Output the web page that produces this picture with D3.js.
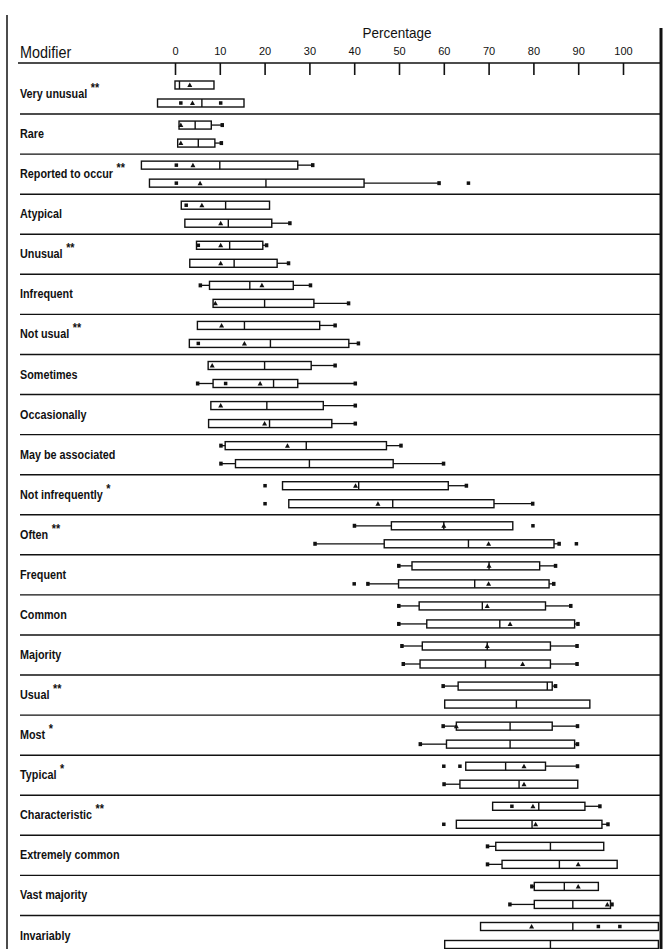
<!DOCTYPE html>
<html>
<head>
<meta charset="utf-8">
<script src="https://cdn.jsdelivr.net/npm/d3@7"></script>
<style>
    html, body { margin: 0; padding: 0; background: #fff; }
    #chart svg { display: block; }
    text { font-family: "Liberation Sans", Arial, sans-serif; fill: #111; }
</style>
</head>
<body>
<div id="chart"></div>
<script>
// ==========================================================================
// DADOS
// ==========================================================================

const modifiers = [
    'Very unusual', 'Rare', 'Reported to occur', 'Atypical', 'Unusual', 'Infrequent',
    'Not usual', 'Sometimes', 'Occasionally', 'May be associated', 'Not infrequently',
    'Often', 'Frequent', 'Common', 'Majority', 'Usual', 'Most', 'Typical',
    'Characteristic', 'Extremely common', 'Vast majority', 'Invariably'
];
const stars = ['**', '', '**', '', '**', '', '**', '', '', '', '*', '**', '', '', '', '**', '*', '*', '**', '', '', ''];

const percentTicks = [0, 10, 20, 30, 40, 50, 60, 70, 80, 90, 100];

// grupo A (caixa de cima)
const aMin  = [0, 0.9, -7.5, 1.4, 4.8, 5.6, 5, 7.4, 8, 10.2, 24, 40, 49.9, 49.9, 50.6, 59.8, 59.8, 64.9, 70.9, 69.7, 79.6, 68.2];
const aQ1   = [0, 0.9, -7.5, 1.4, 4.8, 7.7, 5, 7.4, 8, 11.2, 24, 48.3, 52.9, 54.5, 55.2, 63.2, 62.8, 64.9, 70.9, 71.6, 80.2, 68.2];
const aMed  = [1, 4.5, 10, 11.3, 12.2, 16.7, 15.5, 20, 20.5, 29.3, 41, 60, 70.1, 68.6, 69.7, 83.1, 74.8, 73.8, 81.2, 83.8, 86.9, 88.8];
const aQ3   = [8.7, 8.1, 27.4, 21.1, 19.6, 26.4, 32.3, 30.4, 33.1, 47.2, 61, 75.4, 81.4, 82.7, 83.8, 84.2, 84.2, 82.7, 91.5, 95.7, 94.5, 107.9];
const aMax  = [8.7, 10.6, 30.8, 21.1, 20.5, 30.3, 35.8, 35.8, 40.3, 50.5, 65.1, 75.4, 85, 88.4, 89.8, 85, 89.9, 89.9, 94.9, 95.7, 94.5, 107.9];
const aMean = [3.3, 1.3, 4, 6, 10.2, 19.4, 10.4, 8.3, 10.2, 25.1, 40.3, 60, 70.1, 69.7, 69.7, null, 62.8, 77.9, 79.9, null, 90, 79.6];
const aPoints = [[], [], [0.3], [2.5], [5.2], [], [], [], [], [], [20.1], [79.9], [], [], [], [], [], [60, 63.6], [75.2], [], [], [94.5, 99.3]];

// grupo B (caixa de baixo)
const bMin  = [-3.9, 0.6, -5.7, 2.2, 3.3, 8.5, 3.2, 5, 7.5, 10.2, 25.4, 31.2, 43, 49.9, 50.9, 60.2, 54.7, 60, 62.8, 69.7, 74.7, 60.2];
const bQ1   = [-3.9, 0.6, -5.7, 2.2, 3.3, 8.5, 3.2, 8.5, 7.5, 13.5, 25.4, 46.7, 49.9, 56.2, 54.7, 60.2, 60.6, 63.6, 62.8, 73, 80.2, 60.2];
const bMed  = [6, 5.2, 20.3, 11.9, 13.2, 20, 21.3, 22, 21.1, 30, 48.6, 65.5, 66.9, 72.5, 69.3, 76.2, 74.8, 76.8, 79.7, 85.8, 88.8, 83.8];
const bQ3   = [15.4, 8.9, 42.2, 21.6, 22.8, 31, 38.8, 27.4, 35, 48.7, 71.2, 84.6, 83.5, 89.2, 83.8, 92.6, 89.2, 89.9, 95.3, 98.7, 97.2, 107.9];
const bMax  = [15.4, 10.4, 59, 25.7, 25.4, 38.8, 41, 40.3, 40.3, 60, 79.9, 85.8, 84.6, 90, 89.8, 92.6, 89.9, 89.9, 96.7, 98.7, 97.6, 107.9];
const bMean = [3.9, 1.3, 5.6, 10.2, 10.2, 9, 15.5, 19, 20, null, 45.3, 70, 70, 74.8, 77.6, null, null, 77.9, 80.5, 90, 96.5, null];
const bPoints = [[1.3, 10.2], [], [0.3, 65.5], [], [], [], [5.2], [11.3], [], [], [20.1], [89.6], [40], [], [], [], [], [], [60], [], [], []];

// ==========================================================================
// CONFIGURAÇÕES
// ==========================================================================

const CFG = {
    width: 666,
    height: 949,
    ink: '#111',
    boxHeight: 8,
    groupOffset: 9,
    rowFirst: 94,
    rowLast: 935.5,
    axisY: 63,
    labelScale: 0.9
};

const svg = d3.select('#chart')
    .append('svg')
    .attr('width', CFG.width)
    .attr('height', CFG.height);

const x = d3.scaleLinear().domain([0, 100]).range([175, 623]);
const y = d3.scalePoint().domain(modifiers).range([CFG.rowFirst, CFG.rowLast]);
const step = y.step();

// ==========================================================================
// MOLDURA, CABEÇALHO E EIXO
// ==========================================================================

svg.append('line')
    .attr('x1', 7).attr('x2', 7).attr('y1', 15).attr('y2', CFG.height)
    .attr('stroke', CFG.ink).attr('stroke-width', 1.5);

svg.append('line')
    .attr('x1', 661).attr('x2', 661).attr('y1', 28).attr('y2', CFG.height)
    .attr('stroke', CFG.ink).attr('stroke-width', 3);

svg.append('text')
    .attr('transform', `translate(397,38) scale(${CFG.labelScale},1)`)
    .attr('text-anchor', 'middle')
    .style('font-size', '15px')
    .text('Percentage');

svg.append('text')
    .attr('transform', `translate(20,58) scale(${CFG.labelScale},1)`)
    .style('font-size', '16px')
    .text('Modifier');

svg.append('line')
    .attr('x1', 18).attr('x2', 660).attr('y1', CFG.axisY).attr('y2', CFG.axisY)
    .attr('stroke', CFG.ink).attr('stroke-width', 1.6);

const axis = svg.append('g')
    .attr('transform', `translate(0,${CFG.axisY})`)
    .call(d3.axisTop(x).tickValues(percentTicks).tickSize(-12).tickPadding(8));

axis.select('.domain').remove();
axis.selectAll('.tick line').attr('stroke', CFG.ink).attr('stroke-width', 1.6);
axis.selectAll('.tick text')
    .style('font-size', '11px')
    .style('font-family', '"Liberation Sans", Arial, sans-serif')
    .attr('fill', CFG.ink);

// separadores das linhas
svg.selectAll('.sep')
    .data(modifiers.slice(0, -1))
    .enter().append('line')
    .attr('class', 'sep')
    .attr('x1', 20).attr('x2', 660)
    .attr('y1', d => y(d) + step / 2).attr('y2', d => y(d) + step / 2)
    .attr('stroke', CFG.ink).attr('stroke-width', 1.4);

// rótulos dos modificadores
const labels = svg.selectAll('.label')
    .data(modifiers)
    .enter().append('text')
    .attr('class', 'label')
    .attr('transform', d => `translate(20,${y(d) + 4}) scale(${CFG.labelScale},1)`)
    .style('font-size', '12px')
    .style('font-weight', 'bold')
    .text(d => d);

labels.append('tspan')
    .attr('dx', 4).attr('dy', -6)
    .style('font-size', '12px')
    .text((d, i) => stars[i]);

// ==========================================================================
// BOXPLOTS
// ==========================================================================

function buildRows(mins, q1s, meds, q3s, maxs, means, points, offset) {
    return modifiers.map((m, i) => ({
        modifier: m,
        cy: y(m) + offset,
        min: mins[i], q1: q1s[i], med: meds[i], q3: q3s[i], max: maxs[i],
        mean: means[i], points: points[i]
    }));
}

function drawBoxes(rows, cls) {
    const h = CFG.boxHeight;
    const g = svg.append('g').attr('class', cls);

    const item = g.selectAll('.box')
        .data(rows)
        .enter().append('g')
        .attr('class', 'box');

    // bigodes
    item.filter(d => d.min < d.q1).append('line')
        .attr('x1', d => x(d.min)).attr('x2', d => x(d.q1))
        .attr('y1', d => d.cy).attr('y2', d => d.cy)
        .attr('stroke', CFG.ink).attr('stroke-width', 1.3);

    item.filter(d => d.max > d.q3).append('line')
        .attr('x1', d => x(d.q3)).attr('x2', d => x(d.max))
        .attr('y1', d => d.cy).attr('y2', d => d.cy)
        .attr('stroke', CFG.ink).attr('stroke-width', 1.3);

    // pontas dos bigodes
    item.filter(d => d.min < d.q1).append('rect')
        .attr('x', d => x(d.min) - 1.5).attr('y', d => d.cy - 2)
        .attr('width', 3.5).attr('height', 4)
        .attr('fill', CFG.ink);

    item.filter(d => d.max > d.q3).append('rect')
        .attr('x', d => x(d.max) - 2).attr('y', d => d.cy - 2)
        .attr('width', 3.5).attr('height', 4)
        .attr('fill', CFG.ink);

    // caixa
    item.append('rect')
        .attr('x', d => x(d.q1))
        .attr('y', d => d.cy - h / 2)
        .attr('width', d => x(d.q3) - x(d.q1))
        .attr('height', h)
        .attr('fill', 'none')
        .attr('stroke', CFG.ink)
        .attr('stroke-width', 1.4);

    // mediana
    item.append('line')
        .attr('x1', d => x(d.med)).attr('x2', d => x(d.med))
        .attr('y1', d => d.cy - h / 2).attr('y2', d => d.cy + h / 2)
        .attr('stroke', CFG.ink).attr('stroke-width', 1.4);

    // média
    item.filter(d => d.mean !== null).append('path')
        .attr('d', d => {
            const mx = x(d.mean);
            return `M${mx - 2.5},${d.cy + 2}L${mx + 2.5},${d.cy + 2}L${mx},${d.cy - 2.5}Z`;
        })
        .attr('fill', CFG.ink);

    // pontos isolados
    item.selectAll('.pt')
        .data(d => d.points.map(v => ({ v, cy: d.cy })))
        .enter().append('rect')
        .attr('class', 'pt')
        .attr('x', p => x(p.v) - 1.75).attr('y', p => p.cy - 1.75)
        .attr('width', 3.5).attr('height', 3.5)
        .attr('fill', CFG.ink);
}

drawBoxes(buildRows(aMin, aQ1, aMed, aQ3, aMax, aMean, aPoints, -CFG.groupOffset), 'group-a');
drawBoxes(buildRows(bMin, bQ1, bMed, bQ3, bMax, bMean, bPoints, CFG.groupOffset), 'group-b');
</script>
</body>
</html>
